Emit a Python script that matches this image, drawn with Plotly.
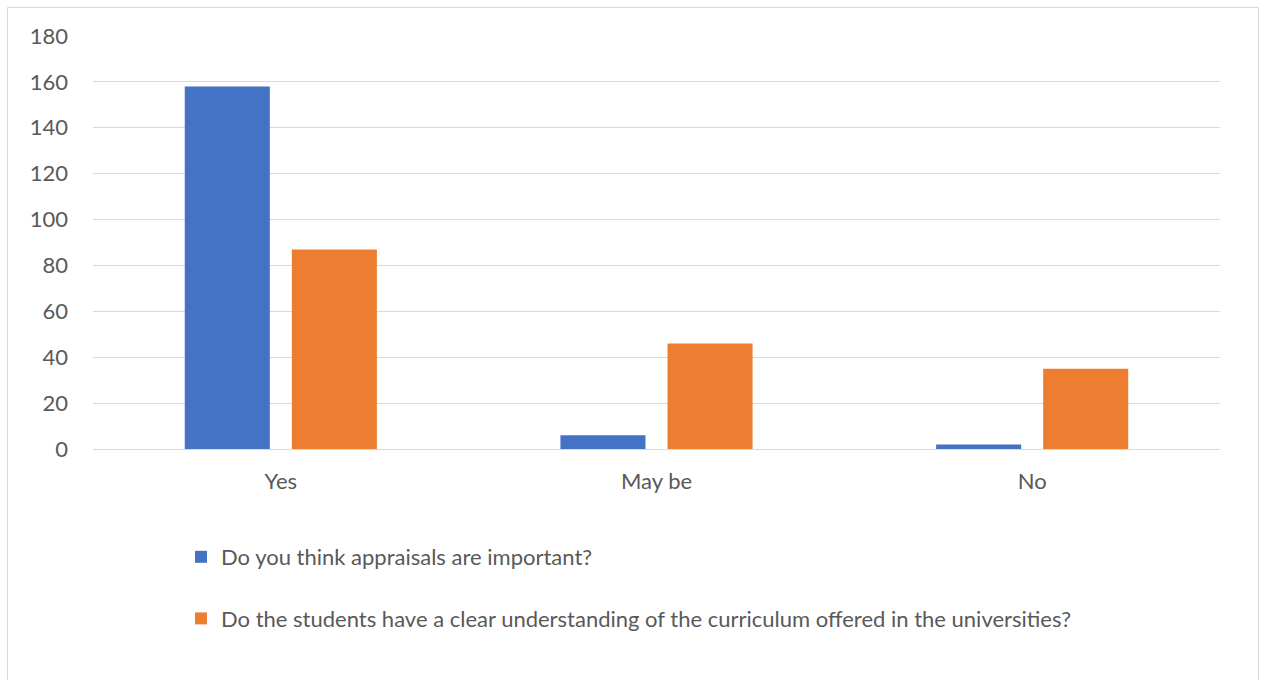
import plotly.graph_objects as go

categories = ["Yes", "May be", "No"]
series_names = [
    "Do you think appraisals are important?",
    "Do the students have a clear understanding of the curriculum offered in the universities?",
]
appraisals = [158, 6, 2]
curriculum = [87, 46, 35]
y_ticks = [0, 20, 40, 60, 80, 100, 120, 140, 160, 180]

W, H = 1264, 680
L, R, T, B = 93, 44, 36, 231
pw, ph = W - L - R, H - T - B

def px(x):
    return (x - L) / pw

def py(y):
    return (H - B - y) / ph

fig = go.Figure()
fig.add_trace(go.Bar(x=categories, y=appraisals, name=series_names[0],
                     marker=dict(color="#4472C4", line=dict(width=0)),
                     legendgroup="a"))
fig.add_trace(go.Bar(x=categories, y=curriculum, name=series_names[1],
                     marker=dict(color="#ED7D31", line=dict(width=0)),
                     legendgroup="b"))

font = "Lato, 'Open Sans', sans-serif"
FS = 22
fig.update_layout(
    width=W, height=H,
    margin=dict(l=L, r=R, t=T, b=B, autoexpand=False),
    paper_bgcolor="white", plot_bgcolor="white",
    barmode="group", bargap=0.43, bargroupgap=0.2056,
    font=dict(family=font, size=FS, color="#595959"),
    showlegend=True,
    legend=dict(x=px(181), y=py(536), xanchor="left", yanchor="top",
                orientation="v", traceorder="grouped", tracegroupgap=30,
                font=dict(size=FS, color="#595959"), bgcolor="rgba(0,0,0,0)",
                itemwidth=30),
    xaxis=dict(showgrid=False, showline=True, linecolor="#d9d9d9", linewidth=1,
               ticks="", ticklabelstandoff=13,
               tickfont=dict(size=FS, color="#595959")),
    yaxis=dict(range=[0, 180], tickvals=y_ticks, showgrid=True,
               gridcolor="#d9d9d9", gridwidth=1, zeroline=False, showline=False,
               ticks="", ticklabelstandoff=24,
               tickfont=dict(size=FS, color="#595959")),
    shapes=[dict(type="rect", xref="paper", yref="paper",
                 x0=px(7.5), x1=px(1258.5), y0=py(690), y1=py(7.5),
                 line=dict(color="#d9d9d9", width=1), fillcolor="rgba(0,0,0,0)",
                 layer="below")],
)

fig.write_html("out.html", config={"displayModeBar": False},
               post_script="document.body.style.margin='0';document.body.style.overflow='hidden';")
